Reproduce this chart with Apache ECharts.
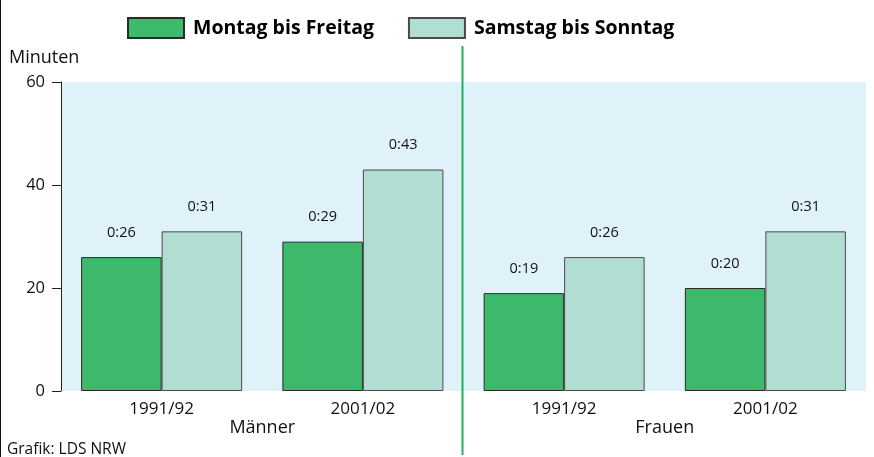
<!DOCTYPE html>
<html>
<head>
<meta charset="utf-8">
<script src="https://cdn.jsdelivr.net/npm/echarts@6/dist/echarts.min.js"></script>
<style>
  html, body { margin: 0; padding: 0; background: #fff; }
  #chart { width: 874px; height: 457px; }
</style>
</head>
<body>
<div id="chart"></div>
<script>
// Freizeit in Minuten je Tag, nach Geschlecht und Erhebungsjahr
const periods = ['1991/92', '2001/02', '1991/92', '2001/02'];
const groups = ['Männer', 'Frauen'];
const weekdays = [26, 29, 19, 20];      // Montag bis Freitag
const weekends = [31, 43, 26, 31];      // Samstag bis Sonntag
const yTicks = [0, 20, 40, 60];

const FONT = '"Open Sans", "Noto Sans", sans-serif';
const GREEN = '#3cb96b';
const LIGHT = '#b2ddd2';

const fmt = (v) => '0:' + String(v).padStart(2, '0');

const chart = echarts.init(document.getElementById('chart'), null, { renderer: 'canvas' });

const barLabel = {
  show: true,
  position: 'top',
  distance: 17,
  fontFamily: FONT,
  fontSize: 14.5,
  color: '#111',
  formatter: (p) => fmt(p.value)
};

chart.setOption({
  animation: false,
  textStyle: { fontFamily: FONT },
  legend: {
    left: 122,
    top: 12,
    icon: 'rect',
    itemWidth: 56,
    itemHeight: 20,
    itemGap: 34,
    textStyle: { fontFamily: FONT, fontSize: 19.5, fontWeight: 'bold', color: '#000', padding: [0, 0, 0, 4] },
    data: ['Montag bis Freitag', 'Samstag bis Sonntag']
  },
  grid: {
    left: 61, right: 8, top: 82, bottom: 66,
    show: true,
    backgroundColor: '#dff1f9',
    borderWidth: 0
  },
  xAxis: [
    {
      type: 'category',
      data: periods,
      axisLine: { show: false },
      axisTick: { show: false },
      axisLabel: { fontFamily: FONT, fontSize: 17, color: '#111', margin: 10 }
    },
    {
      type: 'category',
      data: groups,
      position: 'bottom',
      offset: 19,
      axisLine: { show: false },
      axisTick: { show: false },
      axisLabel: { fontFamily: FONT, fontSize: 18, color: '#111', margin: 9 }
    }
  ],
  yAxis: {
    type: 'value',
    min: yTicks[0],
    max: yTicks[yTicks.length - 1],
    interval: 20,
    splitLine: { show: false },
    axisLine: { show: true, lineStyle: { color: '#222', width: 1 } },
    axisTick: { show: true, length: 9, lineStyle: { color: '#222' } },
    axisLabel: { fontFamily: FONT, fontSize: 16.5, color: '#111', margin: 16 }
  },
  series: [
    {
      name: 'Montag bis Freitag',
      type: 'bar',
      xAxisIndex: 0,
      data: weekdays,
      barGap: '0%',
      barCategoryGap: '20%',
      itemStyle: { color: GREEN, borderColor: '#2a2a2a', borderWidth: 1 },
      label: barLabel
    },
    {
      name: 'Samstag bis Sonntag',
      type: 'bar',
      xAxisIndex: 0,
      data: weekends,
      barGap: '0%',
      barCategoryGap: '20%',
      itemStyle: { color: LIGHT, borderColor: '#4a4a4a', borderWidth: 1 },
      label: barLabel
    }
  ]
});

// Divider between the two groups, halfway between the 2nd and 3rd category
const xa = chart.convertToPixel({ xAxisIndex: 0 }, 1);
const xb = chart.convertToPixel({ xAxisIndex: 0 }, 2);
const divX = Math.round((xa + xb) / 2) - 1.5;

chart.setOption({
  graphic: [
    {
      type: 'line',
      shape: { x1: 0.5, y1: 0, x2: 0.5, y2: 457 },
      style: { stroke: '#111', lineWidth: 1 }
    },
    {
      type: 'line',
      shape: { x1: divX, y1: 46, x2: divX, y2: 455 },
      style: { stroke: '#1fb25a', lineWidth: 2 }
    },
    {
      type: 'text',
      left: 9, top: 49,
      style: { text: 'Minuten', font: '18px ' + FONT, fill: '#111' }
    },
    {
      type: 'text',
      left: 7, top: 442,
      style: { text: 'Grafik: LDS NRW', font: '15.5px ' + FONT, fill: '#111' }
    }
  ]
});
</script>
</body>
</html>
